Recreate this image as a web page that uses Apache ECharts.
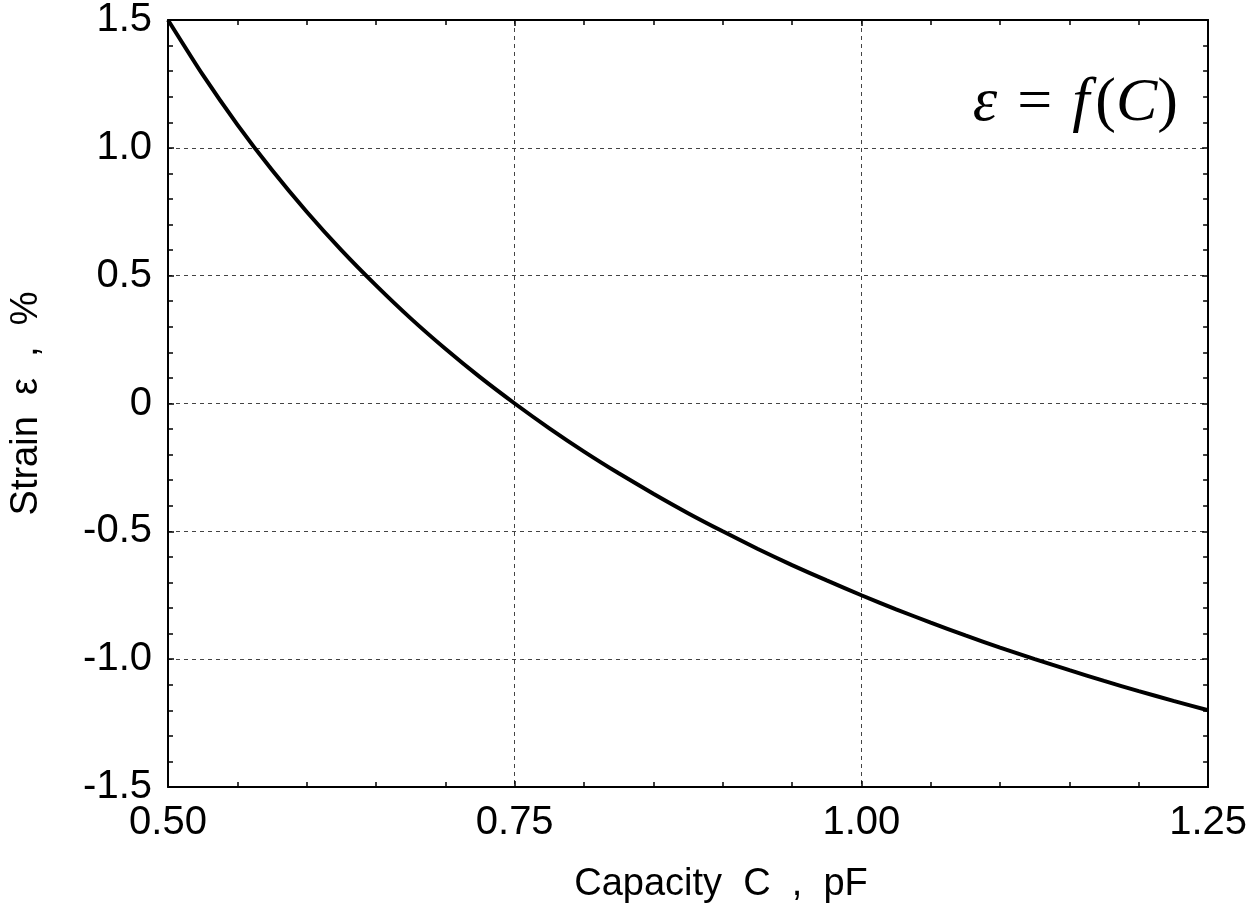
<!DOCTYPE html>
<html>
<head>
<meta charset="utf-8">
<script src="https://cdn.jsdelivr.net/npm/echarts@6/dist/echarts.min.js"></script>
<style>html,body{margin:0;padding:0;background:#fff;}#c{width:1250px;height:912px;}</style>
</head>
<body>
<div id="c"></div>
<script>
// Data
var capacity = [0.500, 0.525, 0.550, 0.575, 0.600, 0.625, 0.650, 0.675, 0.700, 0.725, 0.750, 0.775, 0.800, 0.825, 0.850, 0.875, 0.900, 0.925, 0.950, 0.975, 1.000, 1.025, 1.050, 1.075, 1.100, 1.125, 1.150, 1.175, 1.200, 1.225, 1.250];
var strain   = [1.500, 1.286, 1.091, 0.913, 0.750, 0.600, 0.462, 0.333, 0.214, 0.103, 0.000, -0.097, -0.188, -0.273, -0.353, -0.429, -0.500, -0.568, -0.632, -0.692, -0.750, -0.805, -0.857, -0.907, -0.955, -1.000, -1.043, -1.085, -1.125, -1.163, -1.200];
var xTicks = ['0.50', '0.75', '1.00', '1.25'];
var yTicks = ['-1.5', '-1.0', '-0.5', '0', '0.5', '1.0', '1.5'];

var pts = capacity.map(function (c, i) { return [c, strain[i]]; });
var font = 'Liberation Sans, Arial, sans-serif';
var serif = 'Liberation Serif, Times New Roman, serif';

function xFmt(v) {
  var s = v.toFixed(2);
  return xTicks.indexOf(s) >= 0 ? s : '';
}
function yFmt(v) {
  var s = Math.abs(v) < 1e-9 ? '0' : v.toFixed(1);
  return yTicks.indexOf(s) >= 0 ? s : '';
}

var chart = echarts.init(document.getElementById('c'), null, {renderer: 'canvas'});
var tickCommon = {show: true, inside: true, length: 6, lineStyle: {color: '#000', width: 1.5}};
var minorCommon = {show: true, splitNumber: 5, length: 5, lineStyle: {color: '#000', width: 1.5}};
var lineCommon = {show: true, onZero: false, lineStyle: {color: '#000', width: 2}};
var fs = 62;
chart.setOption({
  animation: false,
  backgroundColor: '#fff',
  title: {
    text: '{i|ε}{eq|=}{f|f}{n|(}{i|C}{n|)}',
    right: 67,
    top: 68,
    textStyle: {
      fontWeight: 'normal',
      rich: {
        i: {fontFamily: serif, fontStyle: 'italic', fontWeight: 'normal', fontSize: fs, color: '#000'},
        f: {fontFamily: serif, fontStyle: 'italic', fontWeight: 'normal', fontSize: fs, color: '#000', padding: [0, 6, 0, 0]},
        eq: {fontFamily: serif, fontWeight: 'normal', fontSize: fs, color: '#000', padding: [0, 20, 0, 20]},
        n: {fontFamily: serif, fontWeight: 'normal', fontSize: fs, color: '#000'}
      }
    }
  },
  grid: {left: 167, right: 41, top: 20, bottom: 125, show: false},
  xAxis: [{
    type: 'value', min: 0.5, max: 1.25, interval: 0.25,
    name: 'Capacity  C  ,  pF', nameLocation: 'middle', nameGap: 79,
    nameTextStyle: {fontFamily: font, fontSize: 38, color: '#000', padding: [0, 0, 0, 66]},
    axisLine: lineCommon,
    axisTick: tickCommon, minorTick: minorCommon,
    axisLabel: {fontFamily: font, fontSize: 40, color: '#000', margin: 16, formatter: xFmt, showMaxLabel: true, showMinLabel: true},
    splitLine: {show: true, lineStyle: {color: '#444', type: [4, 4], width: 1}}
  }, {
    type: 'value', min: 0.5, max: 1.25, interval: 0.25, position: 'top',
    axisLine: lineCommon,
    axisTick: tickCommon, minorTick: minorCommon,
    axisLabel: {show: false}, splitLine: {show: false}
  }],
  yAxis: [{
    type: 'value', min: -1.5, max: 1.5, interval: 0.5,
    name: 'Strain  ε  ,  %', nameLocation: 'middle', nameGap: 122,
    nameTextStyle: {fontFamily: font, fontSize: 38, color: '#000'},
    axisLine: lineCommon,
    axisTick: tickCommon, minorTick: minorCommon,
    axisLabel: {fontFamily: font, fontSize: 40, color: '#000', margin: 16, formatter: yFmt},
    splitLine: {show: true, lineStyle: {color: '#444', type: [4, 4], width: 1}}
  }, {
    type: 'value', min: -1.5, max: 1.5, interval: 0.5, position: 'right',
    axisLine: lineCommon,
    axisTick: tickCommon, minorTick: minorCommon,
    axisLabel: {show: false}, splitLine: {show: false}
  }],
  series: [{
    type: 'line', data: pts, xAxisIndex: 0, yAxisIndex: 0,
    smooth: 0.2, showSymbol: false,
    lineStyle: {color: '#000', width: 4}, z: 5
  }]
});
</script>
</body>
</html>
